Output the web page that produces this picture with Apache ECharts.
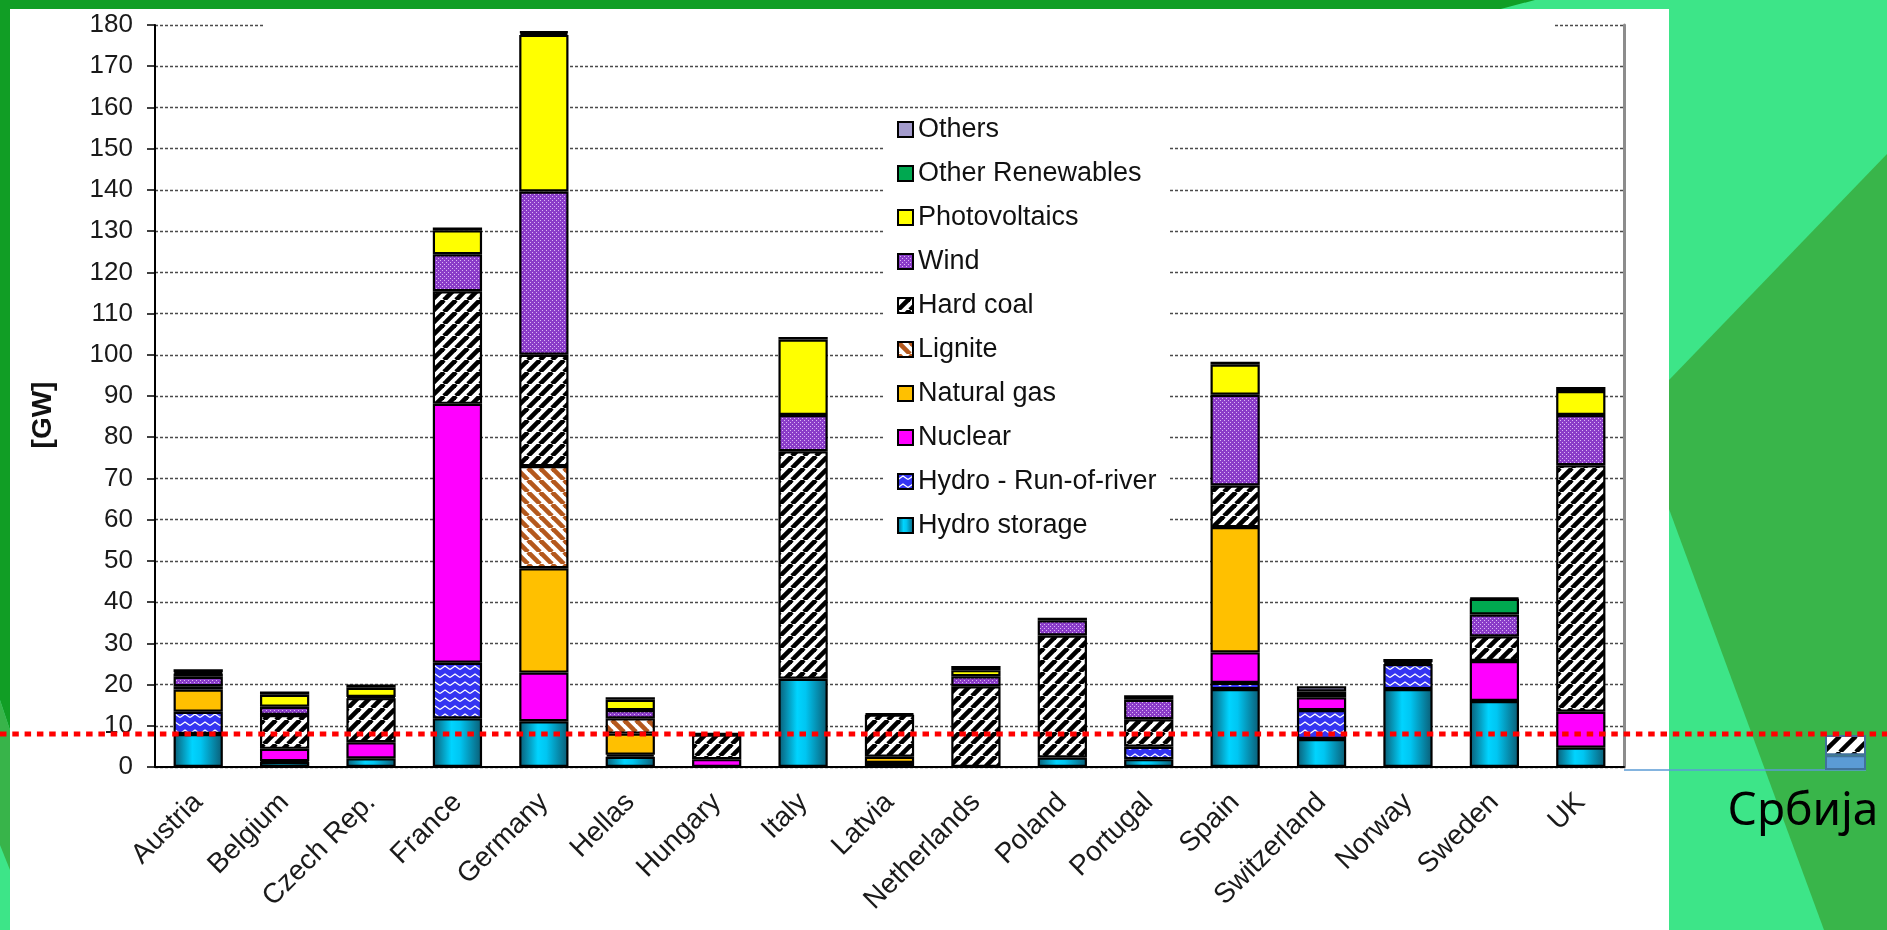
<!DOCTYPE html>
<html>
<head>
<meta charset="utf-8">
<script src="https://cdn.jsdelivr.net/npm/echarts@6/dist/echarts.min.js"></script>
<style>
    html, body {margin: 0; padding: 0; width: 1887px; height: 930px; overflow: hidden;}
    #slide {position: absolute; left: 0; top: 0; width: 1887px; height: 930px;}
    #chart {position: absolute; left: 0; top: 0; width: 1887px; height: 930px;}
</style>
</head>
<body>
<div id="slide">
    <svg width="1887" height="930">
        <rect x="0" y="0" width="1887" height="930" fill="#3de588"/>
        <polygon points="0,0 1535,0 1497,10 0,10" fill="#119e25"/>
        <polygon points="0,0 10,0 10,730 0,700" fill="#119e25"/>
        <polygon points="0,700 10,730 10,870 0,845" fill="#38b44a"/>
        <polygon points="1669,380 1887,154 1887,930 1824,930 1669,509" fill="#39b54a"/>
        <rect x="10" y="9" width="1659" height="921" fill="#ffffff"/>
    </svg>
</div>
<div id="chart"></div>
<script>
    // categories
    var countries = ['Austria', 'Belgium', 'Czech Rep.', 'France', 'Germany', 'Hellas', 'Hungary', 'Italy',
        'Latvia', 'Netherlands', 'Poland', 'Portugal', 'Spain', 'Switzerland', 'Norway', 'Sweden', 'UK'];

    // installed capacity per source, GW
    var hydroStorage = [8.0, 1.2, 2.1, 11.8, 11.1, 2.5, 0, 21.4, 1.0, 0, 2.3, 1.9, 18.9, 6.8, 18.9, 16.0, 4.7];
    var hydroRunOfRiver = [5.4, 0.2, 0, 13.5, 0, 0.5, 0, 0, 0, 0, 0, 3.0, 1.5, 7.0, 6.1, 0, 0];
    var nuclear = [0, 3.0, 3.9, 62.8, 11.8, 0, 1.9, 0, 0, 0, 0, 0, 7.4, 3.1, 0, 9.7, 8.7];
    var naturalGas = [5.4, 0, 0, 0, 25.3, 5.1, 0, 0, 1.5, 0, 0, 0, 30.4, 0, 0, 0, 0];
    var lignite = [0, 0, 0, 0, 24.8, 3.7, 0, 0, 0, 0, 0, 0, 0, 0, 0, 0, 0];
    var hardCoal = [0.8, 8.2, 10.7, 27.3, 27.0, 0, 6.0, 55.2, 10.2, 19.6, 29.6, 6.7, 10.1, 0.8, 0, 6.0, 59.8];
    var wind = [2.3, 2.0, 0.3, 9.0, 39.6, 2.0, 0, 8.8, 0, 2.4, 3.7, 4.7, 22.0, 0, 0, 5.3, 12.2];
    var photovoltaics = [0.8, 2.9, 2.2, 5.8, 38.0, 2.5, 0, 18.3, 0, 1.5, 0, 0, 7.3, 0.6, 0, 0, 5.8];
    var otherRenewables = [0.3, 0, 0, 0, 0.5, 0, 0, 0, 0, 0, 0, 0, 0, 0, 0.4, 3.8, 1.0];
    var others = [0.7, 0.8, 0.8, 0.7, 0.3, 0.6, 0.3, 0.6, 0.3, 1.0, 0.6, 1.1, 0.7, 1.3, 0.8, 0.2, 0];

    // Serbia, drawn beside the chart
    var serbiaCategory = ['Србија'];
    var serbiaHydro = [3.6];
    var serbiaCoal = [4.9];
    var serbiaLevel = 8;

    var yTicks = [0, 180, 10]; // min, max, interval

    var FONT = '"Liberation Sans", Arial, sans-serif';

    function makeTile(w, h, draw) {
        var c = document.createElement('canvas');
        c.width = w;
        c.height = h;
        draw(c.getContext('2d'), w, h);
        return {image: c, repeat: 'repeat'};
    }

    function stripes(bg, fg, size, lw, forward) {
        return makeTile(size, size, function (ctx, w, h) {
            ctx.fillStyle = bg;
            ctx.fillRect(0, 0, w, h);
            ctx.strokeStyle = fg;
            ctx.lineWidth = lw;
            for (var o = -w; o <= w; o += w) {
                ctx.beginPath();
                if (forward) {
                    ctx.moveTo(o, h);
                    ctx.lineTo(o + w, 0);
                } else {
                    ctx.moveTo(o, 0);
                    ctx.lineTo(o + w, h);
                }
                ctx.stroke();
            }
        });
    }

    var coalFill = stripes('#ffffff', '#000000', 12, 4.6, true);
    var ligniteFill = stripes('#ffffff', '#b4581c', 12, 4.6, false);
    var serbiaCoalFill = stripes('#ffffff', '#000000', 16, 4.5, true);
    var windFill = makeTile(4, 4, function (ctx, w, h) {
        ctx.fillStyle = '#8a3cc8';
        ctx.fillRect(0, 0, w, h);
        ctx.fillStyle = '#dcb6f5';
        ctx.fillRect(0, 0, 1, 1);
        ctx.fillRect(2, 2, 1, 1);
    });
    var rorFill = makeTile(10, 8, function (ctx, w, h) {
        ctx.fillStyle = '#3434f2';
        ctx.fillRect(0, 0, w, h);
        ctx.strokeStyle = '#ffffff';
        ctx.lineWidth = 1.4;
        ctx.beginPath();
        ctx.moveTo(0, 5.5);
        ctx.lineTo(5, 2);
        ctx.lineTo(10, 5.5);
        ctx.stroke();
    });
    var storageFill = new echarts.graphic.LinearGradient(0, 0, 1, 0, [
        {offset: 0, color: '#0b5a72'},
        {offset: 0.38, color: '#00d4ff'},
        {offset: 0.55, color: '#00c6f2'},
        {offset: 1, color: '#0b5a72'}
    ]);

    var sources = [
        {name: 'Hydro storage', data: hydroStorage, color: storageFill},
        {name: 'Hydro - Run-of-river', data: hydroRunOfRiver, color: rorFill},
        {name: 'Nuclear', data: nuclear, color: '#ff00ff'},
        {name: 'Natural gas', data: naturalGas, color: '#ffc000'},
        {name: 'Lignite', data: lignite, color: ligniteFill},
        {name: 'Hard coal', data: hardCoal, color: coalFill},
        {name: 'Wind', data: wind, color: windFill},
        {name: 'Photovoltaics', data: photovoltaics, color: '#ffff00'},
        {name: 'Other Renewables', data: otherRenewables, color: '#00a850'},
        {name: 'Others', data: others, color: '#a39bcc'}
    ];

    var series = sources.map(function (s) {
        return {
            name: s.name,
            type: 'bar',
            stack: 'total',
            barWidth: '57%',
            xAxisIndex: 0,
            yAxisIndex: 0,
            data: s.data.map(function (v) { return v === 0 ? '-' : v; }),
            itemStyle: {color: s.color, borderColor: '#000', borderWidth: 2.2}
        };
    });

    series.push({
        name: 'serbiaHydro', type: 'bar', stack: 'serbia', barWidth: 41,
        xAxisIndex: 1, yAxisIndex: 2, data: serbiaHydro,
        itemStyle: {color: '#5b9bd5', borderColor: '#41719c', borderWidth: 2}
    });
    series.push({
        name: 'serbiaCoal', type: 'bar', stack: 'serbia', barWidth: 41,
        xAxisIndex: 1, yAxisIndex: 2, data: serbiaCoal,
        itemStyle: {color: serbiaCoalFill, borderColor: '#41719c', borderWidth: 2}
    });

    var chart = echarts.init(document.getElementById('chart'));
    var option = {
        animation: false,
        backgroundColor: 'transparent',
        grid: [
            {left: 155, right: 263, top: 25, bottom: 163},
            {left: 1805, width: 81, top: 28, bottom: 160}
        ],
        legend: {
            orient: 'vertical',
            left: 884,
            top: 111,
            backgroundColor: '#ffffff',
            padding: [5, 12, 5, 13],
            itemGap: 17,
            itemWidth: 15,
            itemHeight: 15,
            icon: 'rect',
            data: sources.map(function (s) { return s.name; }).reverse(),
            textStyle: {fontSize: 27, lineHeight: 26, fontFamily: FONT, color: '#111'}
        },
        xAxis: [
            {
                type: 'category',
                gridIndex: 0,
                data: countries,
                axisLine: {lineStyle: {color: '#000', width: 2}},
                axisTick: {length: 9, lineStyle: {color: '#000', width: 1.5}},
                axisLabel: {interval: 0, rotate: 45, margin: 31, fontSize: 28, fontFamily: FONT, color: '#1a1a1a'}
            },
            {
                type: 'category',
                gridIndex: 1,
                data: serbiaCategory,
                axisLine: {show: false},
                axisTick: {show: false},
                axisLabel: {show: false}
            }
        ],
        yAxis: [
            {
                type: 'value',
                gridIndex: 0,
                min: yTicks[0],
                max: yTicks[1],
                interval: yTicks[2],
                name: '[GW]',
                nameLocation: 'middle',
                nameGap: 98,
                nameTextStyle: {fontSize: 28, fontWeight: 'bold', fontFamily: FONT, color: '#111', padding: [0, 38, 0, 0]},
                axisLine: {show: true, lineStyle: {color: '#000', width: 2}},
                axisTick: {show: true, length: 8, lineStyle: {color: '#000', width: 1.5}},
                axisLabel: {fontSize: 26, fontFamily: FONT, color: '#1a1a1a', margin: 22},
                splitLine: {lineStyle: {color: '#4a4a4a', type: [3, 2], width: 1.3}}
            },
            {
                type: 'value',
                gridIndex: 0,
                position: 'right',
                min: yTicks[0],
                max: yTicks[1],
                interval: yTicks[2],
                axisLine: {show: true, lineStyle: {color: '#8c8c8c', width: 3}},
                axisTick: {show: false},
                axisLabel: {show: false},
                splitLine: {show: false}
            },
            {
                type: 'value',
                gridIndex: 1,
                min: yTicks[0],
                max: yTicks[1],
                show: false
            }
        ],
        series: series
    };
    chart.setOption(option);

    // decorations placed from the axes
    var levelY = chart.convertToPixel({yAxisIndex: 0}, serbiaLevel);
    var topY = chart.convertToPixel({yAxisIndex: 0}, yTicks[1]);
    var serbiaBase = chart.convertToPixel({yAxisIndex: 2}, 0);
    chart.setOption({
        graphic: [
            {
                type: 'rect', z: 1, silent: true,
                shape: {x: 264, y: topY - 6, width: 1290, height: 12},
                style: {fill: '#ffffff'}
            },
            {
                type: 'line', z: 1, silent: true,
                shape: {x1: 1624, y1: serbiaBase, x2: 1866, y2: serbiaBase},
                style: {stroke: '#5b9bd5', lineWidth: 1.5}
            },
            {
                type: 'line', z: 100, silent: true,
                shape: {x1: 0, y1: levelY, x2: 1887, y2: levelY},
                style: {stroke: '#ff0000', lineWidth: 5, lineDash: [6.5, 5.8]}
            },
            {
                type: 'text', z: 100, silent: true,
                style: {
                    text: serbiaCategory[0], x: 1803, y: 812,
                    align: 'center', verticalAlign: 'middle',
                    fontSize: 46, fontFamily: '"Noto Sans", sans-serif', fill: '#000'
                }
            }
        ]
    });
</script>
</body>
</html>
